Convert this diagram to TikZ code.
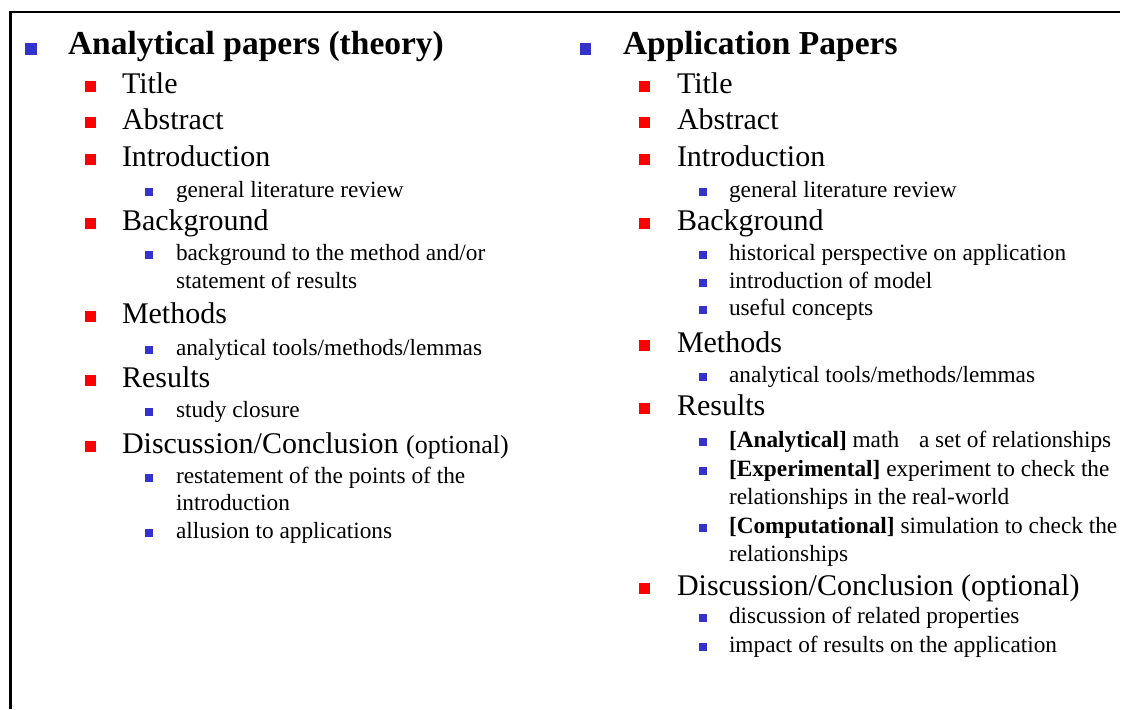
\documentclass[tikz,border=0pt]{standalone}
\usepackage{fontspec}
\setmainfont{Liberation Serif}
\definecolor{bulblue}{HTML}{3333CC}
\definecolor{bulred}{HTML}{FF0000}
\begin{document}
\begin{tikzpicture}[x=1pt,y=-1pt,
 every node/.style={inner sep=0pt, outer sep=0pt},
 lone/.style={anchor=base west, font=\fontsize{33.5}{40}\selectfont\bfseries},
 ltwo/.style={anchor=base west, font=\fontsize{30}{36}\selectfont},
 lthree/.style={anchor=base west, font=\fontsize{23.3}{28}\selectfont},
 bone/.style={fill=bulblue, minimum size=11.5pt},
 btwo/.style={fill=bulred, minimum size=11pt},
 bthree/.style={fill=bulblue, minimum size=7.5pt},
]
\useasboundingbox (0,0) rectangle (1129,709);
\draw[line width=2.5pt] (10.3,709) -- (10.3,12) -- (1120,12);

% ---------- left column ----------
\node[bone] (lb1) at (30.8,49) {};
\node[lone] (l1) at (68,55) {Analytical papers (theory)};
\node[btwo] (lb2) at (90.5,86.5) {};
\node[ltwo] (l2) at (122,93) {Title};
\node[btwo] (lb3) at (90.5,122.5) {};
\node[ltwo] (l3) at (122,129) {Abstract};
\node[btwo] (lb4) at (90.5,159.5) {};
\node[ltwo] (l4) at (122,166) {Introduction};
\node[bthree] (lb5) at (148.8,192) {};
\node[lthree] (l5) at (176,197) {general literature review};
\node[btwo] (lb6) at (90.5,223.5) {};
\node[ltwo] (l6) at (122,230) {Background};
\node[bthree] (lb7) at (148.8,255) {};
\node[lthree] (l7) at (176,260) {background to the method and/or};
\node[lthree] (l8) at (176,288) {statement of results};
\node[btwo] (lb9) at (90.5,316.5) {};
\node[ltwo] (l9) at (122,323) {Methods};
\node[bthree] (lb10) at (148.8,350) {};
\node[lthree] (l10) at (176,355) {analytical tools/methods/lemmas};
\node[btwo] (lb11) at (90.5,380.5) {};
\node[ltwo] (l11) at (122,387) {Results};
\node[bthree] (lb12) at (148.8,412) {};
\node[lthree] (l12) at (176,417) {study closure};
\node[btwo] (lb13) at (90.5,446.5) {};
\node[ltwo] (l13) at (122,453) {Discussion/Conclusion {\fontsize{26}{30}\selectfont(optional)}};
\node[bthree] (lb14) at (148.8,478) {};
\node[lthree] (l14) at (176,483) {restatement of the points of the};
\node[lthree] (l15) at (176,510) {introduction};
\node[bthree] (lb16) at (148.8,533) {};
\node[lthree] (l16) at (176,538) {allusion to applications};

% ---------- right column ----------
\node[bone] (rb1) at (585.5,49) {};
\node[lone] (r1) at (623,55) {Application Papers};
\node[btwo] (rb2) at (644.5,86.5) {};
\node[ltwo] (r2) at (677,93) {Title};
\node[btwo] (rb3) at (644.5,122.5) {};
\node[ltwo] (r3) at (677,129) {Abstract};
\node[btwo] (rb4) at (644.5,159.5) {};
\node[ltwo] (r4) at (677,166) {Introduction};
\node[bthree] (rb5) at (703,192) {};
\node[lthree] (r5) at (729,197) {general literature review};
\node[btwo] (rb6) at (644.5,223.5) {};
\node[ltwo] (r6) at (677,230) {Background};
\node[bthree] (rb7) at (703,255) {};
\node[lthree] (r7) at (729,260) {historical perspective on application};
\node[bthree] (rb8) at (703,283) {};
\node[lthree] (r8) at (729,288) {introduction of model};
\node[bthree] (rb9) at (703,310) {};
\node[lthree] (r9) at (729,315) {useful concepts};
\node[btwo] (rb10) at (644.5,345.5) {};
\node[ltwo] (r10) at (677,352) {Methods};
\node[bthree] (rb11) at (703,377) {};
\node[lthree] (r11) at (729,382) {analytical tools/methods/lemmas};
\node[btwo] (rb12) at (644.5,408.5) {};
\node[ltwo] (r12) at (677,415) {Results};
\node[bthree] (rb13) at (703,442) {};
\node[lthree] (r13) at (729,447) {\textbf{[Analytical]} math\hspace{14pt} a set of relationships};
\node[bthree] (rb14) at (703,471) {};
\node[lthree] (r14) at (729,476) {\textbf{[Experimental]} experiment to check the};
\node[lthree] (r15) at (729,504) {relationships in the real-world};
\node[bthree] (rb16) at (703,528) {};
\node[lthree] (r16) at (729,533) {\textbf{[Computational]} simulation to check the};
\node[lthree] (r17) at (729,561) {relationships};
\node[btwo] (rb18) at (644.5,588.5) {};
\node[ltwo] (r18) at (677,595) {Discussion/Conclusion (optional)};
\node[bthree] (rb19) at (703,618) {};
\node[lthree] (r19) at (729,623) {discussion of related properties};
\node[bthree] (rb20) at (703,647) {};
\node[lthree] (r20) at (729,652) {impact of results on the application};
\end{tikzpicture}
\end{document}
